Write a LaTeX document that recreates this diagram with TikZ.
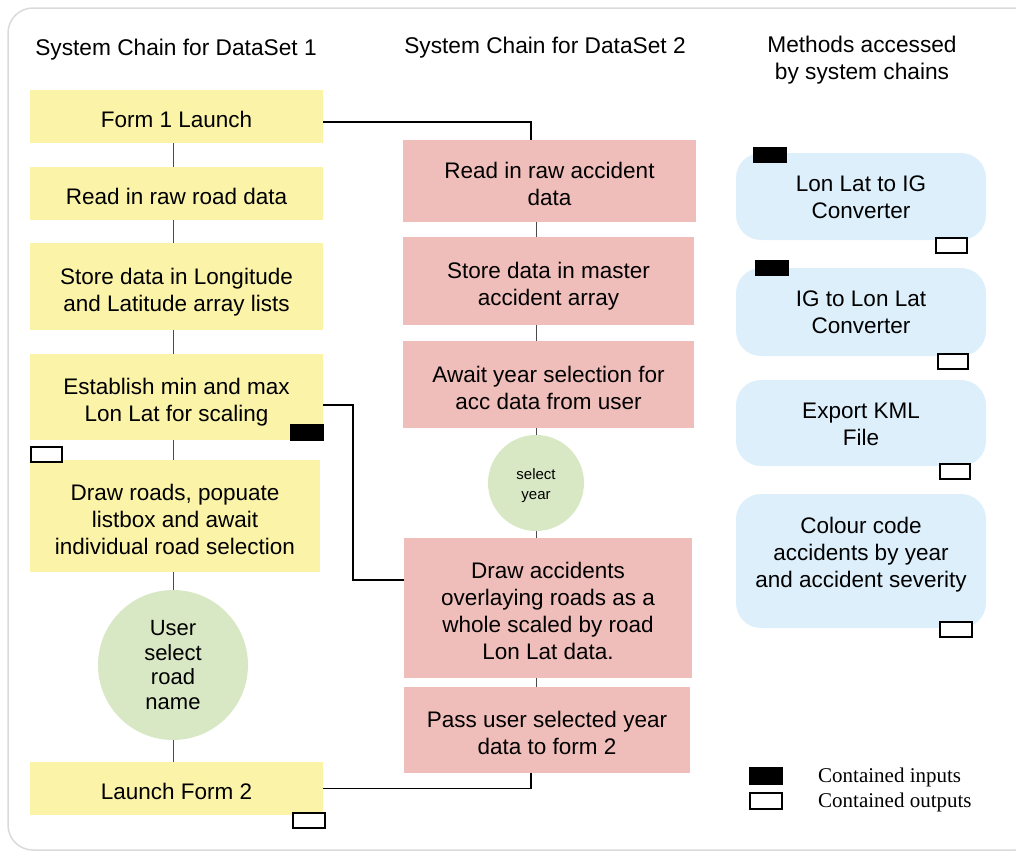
\documentclass[tikz,border=0pt]{standalone}
\usepackage{fontspec}
\setmainfont{Liberation Sans}
\newfontfamily\legfont{Liberation Serif}
\usetikzlibrary{backgrounds,calc}
\definecolor{ylw}{HTML}{FAF3A8}
\definecolor{pnk}{HTML}{F0BEBA}
\definecolor{grn}{HTML}{D9E8C4}
\definecolor{blu}{HTML}{DCEFFB}
\definecolor{frm}{HTML}{DADADA}
\definecolor{vln}{HTML}{4A4A4A}
\tikzset{
  base/.style={inner sep=2pt, align=center, font=\fontsize{22.5}{27}\selectfont},
  ln/.style={text height={22pt+(#1-1)*27pt}, text depth=0pt},
  ybox/.style={base, fill=ylw, minimum width=293pt},
  pbox/.style={base, fill=pnk, minimum width=290pt},
  bbox/.style={base, fill=blu, rounded corners=25pt, minimum width=250pt},
  gcirc/.style={base, fill=grn, circle},
  conn/.style={line width=1.3pt, black},
  vconn/.style={line width=0.9pt, vln},
  inmark/.style={fill=black, draw=black, line width=0.8pt},
  outmark/.style={fill=white, draw=black, line width=1.4pt},
  title/.style={font=\fontsize{22.7}{27}\selectfont, align=center},
}
\begin{document}
\begin{tikzpicture}[x=1pt,y=-1pt]
\useasboundingbox (0,0) rectangle (1016,854);
\draw[frm, line width=1.5pt, rounded corners=25pt] (8,8) rectangle (1040,850);

% titles
\node[title] (t1) at (176,50) {System Chain for DataSet 1};
\node[title] (t2) at (545,48) {System Chain for DataSet 2};
\node[title] (t3) at (862,60) {Methods accessed\\by system chains};

% left chain
\node[ybox, ln=1, minimum height=53pt] (f1) at (176.5,116.5) {Form 1 Launch};
\node[ybox, ln=1, minimum height=53pt] (rr) at (176.5,193.5) {Read in raw road data};
\node[ybox, ln=2, minimum height=87pt] (sd) at (176.5,286.5) {Store data in Longitude\\and Latitude array lists};
\node[ybox, ln=2, minimum height=86pt] (est) at (176.5,397) {Establish min and max\\Lon Lat for scaling};
\node[ybox, ln=3, minimum height=112pt, minimum width=290pt] (dr) at (175,516) {Draw roads, popuate\\listbox and await\\individual road selection};
\node[gcirc, minimum size=150pt, font=\fontsize{22}{24.5}\selectfont] (usr) at (173,665) {User\\select\\road\\name};
\node[ybox, ln=1, minimum height=53pt] (lf2) at (176.5,788.5) {Launch Form 2};

% middle chain
\node[pbox, ln=2, minimum height=82pt, minimum width=293pt] (ra) at (549.5,181) {Read in raw accident\\data};
\node[pbox, ln=2, minimum height=88pt, minimum width=291pt] (sm) at (548.5,281) {Store data in master\\accident array};
\node[pbox, ln=2, minimum height=87pt, minimum width=291pt] (ay) at (548.5,384.5) {Await year selection for\\acc data from user};
\node[gcirc, minimum size=96pt, font=\fontsize{15}{20}\selectfont, text height=33pt, text depth=0pt] (sy) at (536,483) {select\\year};
\node[pbox, ln=4, minimum height=140pt, minimum width=288pt] (da) at (548,608) {Draw accidents\\overlaying roads as a\\whole scaled by road\\Lon Lat data.};
\node[pbox, ln=2, minimum height=86pt, minimum width=286pt] (pu) at (547,730) {Pass user selected year\\data to form 2};

% methods
\node[bbox, text height=44pt, text depth=0pt, minimum height=87pt] (m1) at (861,196.5) {Lon Lat to IG\\Converter};
\node[bbox, text height=43pt, text depth=0pt, minimum height=88pt] (m2) at (861,312) {IG to Lon Lat\\Converter};
\node[bbox, text height=45pt, text depth=0pt, minimum height=86pt] (m3) at (861,423) {Export KML\\File};
\node[bbox, text height=52pt, text depth=0pt, minimum height=134pt] (m4) at (861,561) {Colour code\\accidents by year\\and accident severity};

% markers
\draw[inmark] (290,424) rectangle (323,440);
\draw[outmark] (31,447) rectangle (62,462);
\draw[outmark] (293,813) rectangle (325,828);
\draw[inmark] (753,147) rectangle (786,162);
\draw[outmark] (936,238) rectangle (967,253);
\draw[inmark] (755,260) rectangle (788,275);
\draw[outmark] (938,354) rectangle (968,369);
\draw[outmark] (940,464) rectangle (970,479);
\draw[outmark] (940,622) rectangle (972,637);

% legend
\draw[inmark] (749,767) rectangle (782,784);
\draw[outmark, line width=2.2pt] (750,793) rectangle (782,809);
\node[anchor=west, font=\legfont\fontsize{21}{25}\selectfont, inner sep=0pt] (lg1) at (818,777) {Contained inputs};
\node[anchor=west, font=\legfont\fontsize{21}{25}\selectfont, inner sep=0pt] (lg2) at (818,802) {Contained outputs};

% connectors
\begin{pgfonlayer}{background}
\draw[vconn] (f1.south -| usr) -- (rr.north -| usr);
\draw[vconn] (rr.south -| usr) -- (sd.north -| usr);
\draw[vconn] (sd.south -| usr) -- (est.north -| usr);
\draw[vconn] (est.south -| usr) -- (dr.north -| usr);
\draw[vconn] (dr.south -| usr) -- (usr.north);
\draw[vconn] (usr.south) -- (lf2.north -| usr);
\draw[vconn] (ra.south -| sy) -- (sm.north -| sy);
\draw[vconn] (sm.south -| sy) -- (ay.north -| sy);
\draw[vconn] (ay.south -| sy) -- (sy.north);
\draw[vconn] (sy.south) -- (da.north -| sy);
\draw[vconn] (da.south -| sy) -- (pu.north -| sy);
\coordinate (k1) at (531,140);
\draw[conn] ([yshift=-5.5pt]f1.east) -| (k1);
\coordinate (k2) at (353,405);
\draw[conn] ([yshift=-8pt]est.east) -- (k2) |- ([yshift=28pt]da.west);
\coordinate (k3) at (531,773);
\draw[conn] (lf2.east) -| (k3);
\end{pgfonlayer}
\end{tikzpicture}
\end{document}
